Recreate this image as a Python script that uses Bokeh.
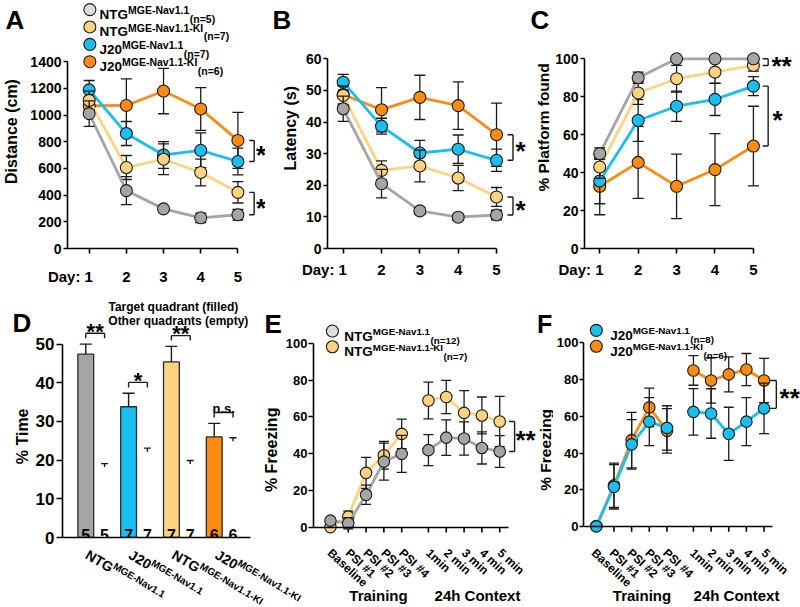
import math
from bokeh.plotting import figure
from bokeh.models import Range1d, Label, FixedTicker, AllLabels
from bokeh.layouts import row, column
from bokeh.embed import file_html
from bokeh.resources import INLINE

FONT = "Liberation Sans"
INK = "#1a1a1a"
GREY = "#A5A5A5"
GREY_LIGHT = "#DEDEDE"
YELLOW = "#FFD37F"
BLUE = "#1ABEF0"
ORANGE = "#FF8C12"

# ---------------- data ----------------
days = [1, 2, 3, 4, 5]

dist_ntg = [1011, 434, 297, 230, 253]
dist_ntg_err = [95, 105, 20, 35, 40]
dist_ntgki = [1110, 607, 669, 570, 421]
dist_ntgki_err = [70, 90, 115, 100, 80]
dist_j20 = [1189, 862, 701, 736, 652]
dist_j20_err = [70, 90, 100, 130, 100]
dist_j20ki = [1070, 1072, 1180, 1046, 810]
dist_j20ki_err = [70, 200, 170, 160, 210]

lat_ntg = [44.2, 20.5, 11.9, 9.9, 10.6]
lat_ntg_err = [4.0, 4.5, 1.0, 1.0, 1.5]
lat_ntgki = [48.4, 24.7, 26.1, 22.3, 16.3]
lat_ntgki_err = [3.0, 3.0, 5.0, 4.0, 3.0]
lat_j20 = [52.6, 38.7, 30.2, 31.4, 27.9]
lat_j20_err = [2.5, 2.5, 4.0, 4.5, 3.5]
lat_j20ki = [48.7, 43.9, 47.8, 45.2, 36.0]
lat_j20ki_err = [3.0, 7.0, 7.0, 7.5, 10.0]

plat_ntg = [50, 90, 100, 100, 100]
plat_ntg_err = [3, 3, 0, 0, 0]
plat_ntgki = [43, 82, 89.5, 93, 96.5]
plat_ntgki_err = [6, 6, 7, 6, 3]
plat_j20 = [35.6, 67.5, 75, 78.6, 85.6]
plat_j20_err = [12, 11, 8, 8.5, 5]
plat_j20ki = [32.8, 45.4, 32.8, 41.6, 54]
plat_j20ki_err = [15, 19, 17, 19, 21]

legend_main = ["NTG", "NTG", "J20", "J20"]
legend_sup = ["MGE-Nav1.1", "MGE-Nav1.1-KI", "MGE-Nav1.1", "MGE-Nav1.1-KI"]
legend_n = ["(n=5)", "(n=7)", "(n=7)", "(n=6)"]

probe_main = ["NTG", "J20", "NTG", "J20"]
probe_sup = ["MGE-Nav1.1", "MGE-Nav1.1", "MGE-Nav1.1-KI", "MGE-Nav1.1-KI"]
probe_target = [47.4, 33.8, 45.4, 26.0]
probe_target_err = [2.6, 3.5, 4.0, 3.5]
probe_other = [18.2, 22.2, 19.0, 24.9]
probe_other_err = [0.9, 0.9, 0.9, 0.9]
probe_n = [5, 7, 7, 6]
probe_sig = ["**", "*", "**", "n.s."]

fc_labels = ["Baseline", "PSI #1", "PSI #2", "PSI #3", "PSI #4",
             "1min", "2 min", "3 min", "4 min", "5 min"]
fc_ntg = [3.8, 2.4, 17.8, 35.8, 40.0, 42.0, 48.8, 48.3, 43.2, 41.3]
fc_ntg_err = [1.0, 3.0, 5.2, 10.0, 10.0, 8.4, 9.6, 9.0, 8.7, 8.6]
fc_ntgki = [0.3, 6.0, 29.7, 39.2, 50.8, 68.9, 70.8, 62.2, 60.8, 57.5]
fc_ntgki_err = [1.0, 3.0, 8.4, 7.5, 8.0, 10.0, 9.0, 12.0, 10.0, 13.6]
fc_j20 = [0.3, 21.7, 44.7, 57.0, 53.6, 62.3, 61.4, 50.4, 57.0, 64.2]
fc_j20_err = [0.5, 12.0, 13.4, 13.0, 12.0, 12.6, 13.4, 14.4, 13.0, 13.7]
fc_j20ki = [0.5, 22.5, 47.0, 64.7, 52.0, 84.7, 79.3, 82.6, 85.2, 79.3]
fc_j20ki_err = [0.5, 12.0, 15.0, 10.4, 12.0, 8.0, 12.3, 9.5, 8.7, 12.0]
fc_legend_ntg_n = ["(n=12)", "(n=7)"]
fc_legend_j20_n = ["(n=8)", "(n=6)"]

# ---------------- text metrics (Arial/Liberation Sans Bold) ----------------
AW = {' ': 278, '\u00a0': 278, '#': 556, '%': 889, '(': 333, ')': 333, '*': 389,
      '-': 333, '.': 278, ':': 333, '=': 584,
      'A': 722, 'B': 722, 'C': 722, 'D': 722, 'E': 667, 'F': 611, 'G': 778, 'I': 278,
      'J': 556, 'K': 722, 'L': 611, 'M': 833, 'N': 722, 'O': 778, 'P': 667, 'S': 667,
      'T': 611, 'a': 556, 'c': 556, 'd': 611, 'e': 556, 'f': 333, 'g': 611, 'h': 611,
      'i': 278, 'l': 278, 'm': 889, 'n': 611, 'o': 611, 'p': 611, 'q': 611, 'r': 389,
      's': 556, 't': 333, 'u': 611, 'v': 556, 'x': 556, 'y': 556, 'z': 500}


def tw(s, size):
    return sum(AW.get(c, 556) for c in s) * size / 1000.0


# ---------------- helpers ----------------
def base_fig(w, h, xr, yr, bl=0, bb=0, axes=True):
    kw = dict(width=w, height=h, x_range=Range1d(*xr), y_range=Range1d(*yr),
              output_backend="svg", toolbar_location=None, title=None,
              min_border_left=bl, min_border_right=0, min_border_top=0,
              min_border_bottom=bb)
    if not axes:
        kw.update(x_axis_location=None, y_axis_location=None)
    p = figure(**kw)
    p.outline_line_color = None
    p.grid.visible = False
    return p


def style_axis(ax, size, tick_out, standoff):
    ax.axis_line_color = "black"
    ax.axis_line_width = 1.6
    ax.major_tick_line_color = "black"
    ax.major_tick_line_width = 1.6
    ax.major_tick_out = tick_out
    ax.major_tick_in = 0
    ax.minor_tick_line_color = None
    ax.major_label_text_font = FONT
    ax.major_label_text_font_size = f"{size}px"
    ax.major_label_text_font_style = "bold"
    ax.major_label_text_color = "black"
    ax.major_label_standoff = standoff
    ax.major_label_policy = AllLabels()


def lab(p, x, y, text, size, align="left", base="alphabetic", angle=0.0, xo=0, yo=0):
    p.add_layout(Label(x=x, y=y, text=text, text_font=FONT, text_font_size=f"{size}px",
                       text_font_style="bold", text_color="black", text_align=align,
                       text_baseline=base, angle=angle, x_offset=xo, y_offset=yo))


def draw_series(p, xs, ys, es, color, chunks=None, size=12, cap=11):
    if chunks is None:
        chunks = [(0, len(xs))]
    for a, b in chunks:
        p.line(xs[a:b], ys[a:b], line_color=color, line_width=2.8)
    lo = [y - e for y, e in zip(ys, es)]
    hi = [y + e for y, e in zip(ys, es)]
    p.segment(xs, lo, xs, hi, line_color=INK, line_width=1.3)
    p.scatter(list(xs) + list(xs), lo + hi, marker="dash", size=cap,
              line_color=INK, line_width=1.3)
    p.scatter(xs, ys, size=size, fill_color=color, line_color=INK, line_width=1.1)


def vbracket(p, xa, xb, y1, y2):
    p.segment([xa, xa, xb], [y1, y2, y1], [xb, xb, xb], [y1, y2, y2],
              line_color=INK, line_width=1.4)


def rich_legend(p, xm, xt, y, main, sup, sub, color, s_main=13.5, s_small=10, msize=12):
    p.scatter([xm], [y], size=msize, fill_color=color, line_color=INK, line_width=1.1)
    w1 = tw(main, s_main)
    w2 = tw(sup, s_small)
    lab(p, xt, y, main, s_main, yo=-5)
    lab(p, xt, y, sup, s_small, xo=w1, yo=-0.6)
    lab(p, xt, y, sub, s_small, xo=w1 + w2 + 0.5, yo=-9.5)


def y_axis(p, size, ticks, top, tick_out, standoff):
    ya = p.yaxis[0]
    style_axis(ya, size, tick_out, standoff)
    ya.ticker = FixedTicker(ticks=ticks, minor_ticks=[])
    ya.bounds = (0, top)


def day_axis(p, x0, standoff):
    xa = p.xaxis[0]
    style_axis(xa, 15, 5, standoff)
    xa.ticker = FixedTicker(ticks=days, minor_ticks=[])
    xa.bounds = (x0, days[-1])
    xa.major_label_overrides = {1: "Day: 1" + "\u00a0" * 9}


def strip(w, h):
    return base_fig(w, h, (0, w), (0, h), axes=False)


STAR = 26
STAR_YO = -4
LETTER_BASE = 23.5

# ================= Panel A =================
def ax_(rx): return 1 + (rx - 86.0) / 37.75
def ay_(ry): return (250.0 - ry) / 0.1345

pA = base_fig(238, 300, (ax_(64), ax_(265)), (0, ay_(0)), bl=37, bb=50)
y_axis(pA, 14, list(range(0, 1401, 200)), 1400, 4, 2)
day_axis(pA, ax_(64), 14)
for ys, es, c in [(dist_j20ki, dist_j20ki_err, ORANGE), (dist_j20, dist_j20_err, BLUE),
                  (dist_ntgki, dist_ntgki_err, YELLOW), (dist_ntg, dist_ntg_err, GREY)]:
    draw_series(pA, days, ys, es, c)
vbracket(pA, ax_(248.5), ax_(253.5), dist_j20ki[-1], dist_j20[-1])
lab(pA, ax_(260.5), (dist_j20ki[-1] + dist_j20[-1]) / 2, "*", STAR, align="center", yo=STAR_YO)
vbracket(pA, ax_(248.5), ax_(253.5), dist_ntgki[-1], dist_ntg[-1])
lab(pA, ax_(260.5), (dist_ntgki[-1] + dist_ntg[-1]) / 2, "*", STAR, align="center", yo=STAR_YO)
for i, c in enumerate([GREY_LIGHT, YELLOW, BLUE, ORANGE]):
    ry = 9.2 + 17.5 * i
    rich_legend(pA, ax_(86.7), ax_(96.5), ay_(ry), legend_main[i], legend_sup[i], legend_n[i], c,
                s_small=10.5)

sA = strip(27, 300)
lab(sA, 5, 300 - LETTER_BASE, "A", 26)
lab(sA, 11, 300 - 158.5, "Distance (cm)", 16, align="center", base="middle", angle=math.pi / 2)

# ================= Panel B =================
def bx_(rx): return 1 + (rx - 342.7) / 38.33
def by_(ry): return (248.0 - ry) / 3.1617

pB = base_fig(229, 300, (bx_(327), bx_(530)), (0, by_(0)), bl=26, bb=52)
y_axis(pB, 14, list(range(0, 61, 10)), 60, 4, 2)
day_axis(pB, bx_(327), 7)
for ys, es, c in [(lat_j20ki, lat_j20ki_err, ORANGE), (lat_j20, lat_j20_err, BLUE),
                  (lat_ntgki, lat_ntgki_err, YELLOW), (lat_ntg, lat_ntg_err, GREY)]:
    draw_series(pB, days, ys, es, c)
vbracket(pB, bx_(507), bx_(512.5), lat_j20ki[-1], lat_j20[-1])
lab(pB, bx_(520), (lat_j20ki[-1] + lat_j20[-1]) / 2, "*", STAR, align="center", yo=STAR_YO)
vbracket(pB, bx_(507), bx_(512.5), lat_ntgki[-1], lat_ntg[-1])
lab(pB, bx_(520), (lat_ntgki[-1] + lat_ntg[-1]) / 2, "*", STAR, align="center", yo=STAR_YO)

sB = strip(36, 300)
lab(sB, 7, 300 - LETTER_BASE, "B", 26)
lab(sB, 25, 300 - 154.5, "Latency (s)", 16, align="center", base="middle", angle=math.pi / 2)

# ================= Panel C =================
def cx_(rx): return 1 + (rx - 598.3) / 38.6
def cy_(ry): return (248.0 - ry) / 1.897

pC = base_fig(248, 300, (cx_(583), cx_(800)), (0, cy_(0)), bl=31, bb=52)
y_axis(pC, 14, list(range(0, 101, 20)), 100, 4, 2)
day_axis(pC, cx_(583), 7)
for ys, es, c in [(plat_j20ki, plat_j20ki_err, ORANGE), (plat_j20, plat_j20_err, BLUE),
                  (plat_ntgki, plat_ntgki_err, YELLOW), (plat_ntg, plat_ntg_err, GREY)]:
    draw_series(pC, days, ys, es, c)
vbracket(pC, cx_(762), cx_(767.5), plat_ntg[-1], plat_ntgki[-1])
lab(pC, cx_(781), (plat_ntg[-1] + plat_ntgki[-1]) / 2, "**", STAR, align="center", yo=STAR_YO)
vbracket(pC, cx_(762), cx_(767.5), plat_j20[-1], plat_j20ki[-1])
lab(pC, cx_(777), (plat_j20[-1] + plat_j20ki[-1]) / 2, "*", STAR, align="center", yo=STAR_YO)

sC = strip(22, 300)
lab(sC, 0, 300 - LETTER_BASE, "C", 26)
lab(sC, 13, 300 - 153.5, "% Platform found", 15.5, align="center", base="middle",
    angle=math.pi / 2)

# ================= Panel D =================
MID_TOP, MID_BOT = 300, 546


def dx_(rx): return (rx - 83.5) / 19.0
def dy_(ry): return (537.0 - ry) / 3.868

GROUP_STEP = 43.27 / 19.0
pos_t = [g * GROUP_STEP for g in range(len(probe_target))]
pos_o = [x + 1.0 for x in pos_t]
bar_cols = [GREY, BLUE, YELLOW, ORANGE]

pD = base_fig(223, MID_BOT - MID_TOP, (dx_(60), dx_(255)), (0, dy_(MID_TOP)), bl=28, bb=9)
y_axis(pD, 17, list(range(0, 51, 10)), 50, 6, 2)
xD = pD.xaxis[0]
style_axis(xD, 0, 0, 0)
xD.major_label_text_font_size = "0px"
xD.ticker = FixedTicker(ticks=[], minor_ticks=[])
xD.bounds = (dx_(60), dx_(250))

pD.vbar(x=pos_o, top=probe_other, width=0.84, fill_color="white", line_color=None)
pD.vbar(x=pos_t, top=probe_target, width=0.84, fill_color=bar_cols, line_color="#2a2a2a",
        line_width=1.3)
t_hi = [v + e for v, e in zip(probe_target, probe_target_err)]
o_hi = [v + e for v, e in zip(probe_other, probe_other_err)]
pD.segment(pos_t, probe_target, pos_t, t_hi, line_color=INK, line_width=1.4)
pD.scatter(pos_t, t_hi, marker="dash", size=12, line_color=INK, line_width=1.4)
pD.segment(pos_o, probe_other, pos_o, o_hi, line_color=INK, line_width=1.4)
pD.scatter(pos_o, o_hi, marker="dash", size=7, line_color=INK, line_width=1.4)
for xt, xo_, n in zip(pos_t, pos_o, probe_n):
    lab(pD, xt, 0, str(n), 16, align="center", yo=3)
    lab(pD, xo_, 0, str(n), 16, align="center", yo=3)
for xt, xo_, th_, oh_, sig in zip(pos_t, pos_o, t_hi, o_hi, probe_sig):
    yb = max(th_, oh_) + 2.8
    pD.segment([xt, xt, xo_], [yb, yb, yb], [xt, xo_, xo_], [yb - 1.3, yb, yb - 1.3],
               line_color=INK, line_width=1.4)
    if "*" in sig:
        lab(pD, (xt + xo_) / 2, yb, sig, 22, align="center", yo=2)
    else:
        lab(pD, (xt + xo_) / 2, yb, sig, 13, align="center", yo=4.5)
lab(pD, dx_(172), dy_(306.5), "Target quadrant (filled)", 12, align="center", base="middle")
lab(pD, dx_(177), dy_(320.5), "Other quadrants (empty)", 12, align="center", base="middle")

sD = strip(32, MID_BOT - MID_TOP)
lab(sD, 12, MID_BOT - 323.5, "D", 26)
lab(sD, 22, MID_BOT - 441, "% Time", 16, align="center", base="middle", angle=math.pi / 2)

# D rotated group labels (strip under D)
BOT_H = 607 - MID_BOT
dl = base_fig(303, BOT_H, (dx_(0), dx_(303)), (0, BOT_H), axes=False)
TH = math.radians(31)
for g, (m, s) in enumerate(zip(probe_main, probe_sup)):
    w1 = tw(m, 14)
    lab(dl, pos_t[g], BOT_H, m, 14, base="top", angle=-TH, xo=7)
    sx = w1 * math.cos(TH) + 1.5 * math.sin(TH)
    sy = w1 * math.sin(TH) - 1.5 * math.cos(TH)
    lab(dl, pos_t[g], BOT_H, s, 10, base="top", angle=-TH, xo=7 + sx, yo=-sy)

# ================= Panel E =================
def ex_(rx): return (rx - 329.0) / 17.9
def ey_(ry): return (535.8 - ry) / 1.916

fc_pos = [i + (0.5 if i >= 5 else 0.0) for i in range(len(fc_labels))]
CH = [(0, 5), (5, 10)]
TICK_LABEL_Y = 607 - 550.5


def fc_axes(p, x0, x1, tick_len):
    y_axis(p, 13, list(range(0, 101, 20)), 100, 5, 1)
    xa = p.xaxis[0]
    style_axis(xa, 0, 0, 0)
    xa.major_label_text_font_size = "0px"
    xa.ticker = FixedTicker(ticks=[], minor_ticks=[])
    xa.fixed_location = 0
    xa.bounds = (x0, x1)
    p.segment(fc_pos, [0] * len(fc_pos), fc_pos, [-tick_len] * len(fc_pos),
              line_color="black", line_width=1.6)


pE = base_fig(254, MID_BOT - MID_TOP, (ex_(312), ex_(536)), (ey_(MID_BOT), ey_(MID_TOP)),
              bl=30, bb=0)
fc_axes(pE, ex_(312), ex_(508), 5 / 1.916)
draw_series(pE, fc_pos, fc_ntgki, fc_ntgki_err, YELLOW, chunks=CH, size=11.5, cap=10)
draw_series(pE, fc_pos, fc_ntg, fc_ntg_err, GREY, chunks=CH, size=11.5, cap=10)
vbracket(pE, ex_(508.5), ex_(514), fc_ntgki[-1], fc_ntg[-1])
lab(pE, ex_(525), (fc_ntgki[-1] + fc_ntg[-1]) / 2, "**", STAR, align="center", yo=STAR_YO)
for i, c in enumerate([GREY_LIGHT, YELLOW]):
    rich_legend(pE, ex_(331), ex_(343), ey_(331.7 + 16.3 * i), legend_main[i], legend_sup[i],
                fc_legend_ntg_n[i], c, s_small=9.8)

sE = strip(27, MID_BOT - MID_TOP)
lab(sE, 9, MID_BOT - 324, "E", 26)
lab(sE, 16, MID_BOT - 455, "% Freezing", 16, align="center", base="middle", angle=math.pi / 2)

eb = base_fig(233, BOT_H, (ex_(303), ex_(536)), (0, BOT_H), axes=False)
for x, t in zip(fc_pos, fc_labels):
    lab(eb, x, TICK_LABEL_Y, t, 12, base="middle", angle=-0.75)
lab(eb, ex_(378), 607 - 594.5, "Training", 15, align="center", base="middle")
lab(eb, ex_(477), 607 - 594.5, "24h Context", 15, align="center", base="middle")

# ================= Panel F =================
def fx_(rx): return (rx - 593.0) / 17.9
def fy_(ry): return (535.0 - ry) / 1.917

pF = base_fig(247, MID_BOT - MID_TOP, (fx_(580), fx_(800)), (fy_(MID_BOT), fy_(MID_TOP)),
              bl=27, bb=0)
fc_axes(pF, fx_(580), fx_(772), 5 / 1.917)
pF.yaxis[0].major_tick_out = 4
draw_series(pF, fc_pos, fc_j20ki, fc_j20ki_err, ORANGE, chunks=CH, size=11.5, cap=10)
draw_series(pF, fc_pos, fc_j20, fc_j20_err, BLUE, chunks=CH, size=11.5, cap=10)
vbracket(pF, fx_(769), fx_(775.5), fc_j20ki[-1], fc_j20[-1])
lab(pF, fx_(789), (fc_j20ki[-1] + fc_j20[-1]) / 2, "**", STAR, align="center", yo=STAR_YO)
for i, c in enumerate([BLUE, ORANGE]):
    rich_legend(pF, fx_(593), fx_(607), fy_(331 + 16.5 * i), legend_main[2 + i],
                legend_sup[2 + i], fc_legend_j20_n[i], c, s_small=9.8)

sF = strip(17, MID_BOT - MID_TOP)
lab(sF, 0.5, MID_BOT - 324, "F", 25)
lab(sF, 8.5, MID_BOT - 455, "% Freezing", 15.5, align="center", base="middle",
    angle=math.pi / 2)

fb = base_fig(264, BOT_H, (fx_(536), fx_(800)), (0, BOT_H), axes=False)
for x, t in zip(fc_pos, fc_labels):
    lab(fb, x, TICK_LABEL_Y, t, 12, base="middle", angle=-0.75)
lab(fb, fx_(641.5), 607 - 594.5, "Training", 15, align="center", base="middle")
lab(fb, fx_(736), 607 - 594.5, "24h Context", 15, align="center", base="middle")

# ================= layout =================
top = row(sA, pA, sB, pB, sC, pC)
mid = row(sD, pD, sE, pE, sF, pF)
bot = row(dl, eb, fb)
lay = column(top, mid, bot)

open("out.html", "w").write(file_html(lay, INLINE))
